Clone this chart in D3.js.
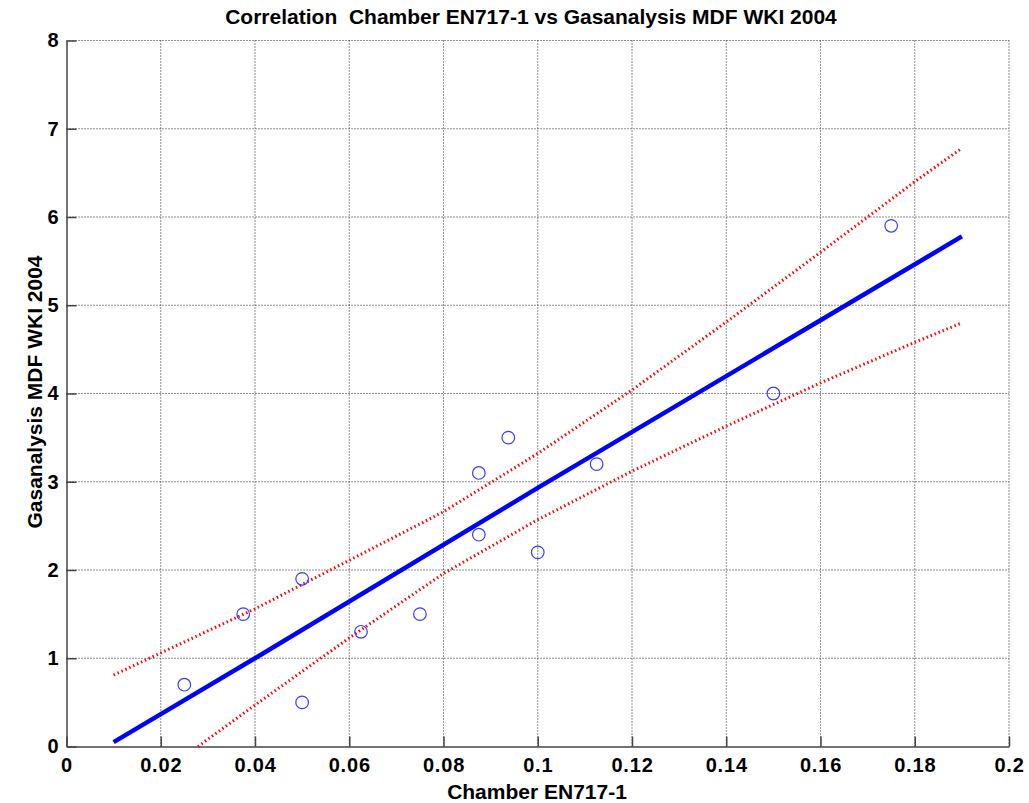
<!DOCTYPE html>
<html>
<head>
<meta charset="utf-8">
<script src="https://cdn.jsdelivr.net/npm/d3@7"></script>
<style>
  body { margin: 0; background: #fff; }
  text { font-family: "Liberation Sans", Arial, sans-serif; font-weight: bold; fill: #000; }
</style>
</head>
<body>
<div id="chart"></div>
<script>
// measured points
var chamberX = [0.025, 0.0375, 0.05, 0.05, 0.0625, 0.075, 0.0875, 0.0875, 0.09375, 0.1, 0.1125, 0.15, 0.175];
var gasY = [0.7, 1.5, 1.9, 0.5, 1.3, 1.5, 3.1, 2.4, 3.5, 2.2, 3.2, 4.0, 5.9];

// regression line and confidence band
var fitX = [0.01, 0.04, 0.1, 0.16, 0.19];
var fitY = [0.05, 1.0, 2.93, 4.83, 5.78];
var upperX = [0.01, 0.04, 0.08, 0.1, 0.12, 0.14, 0.16, 0.18, 0.19];
var upperY = [0.81, 1.56, 2.66, 3.32, 4.04, 4.81, 5.6, 6.4, 6.78];
var lowerX = [0.0279, 0.04, 0.06, 0.08, 0.1, 0.12, 0.14, 0.16, 0.18, 0.19];
var lowerY = [0, 0.47, 1.23, 1.96, 2.57, 3.12, 3.63, 4.12, 4.58, 4.8];

var xTicks = [0, 0.02, 0.04, 0.06, 0.08, 0.1, 0.12, 0.14, 0.16, 0.18, 0.2];
var yTicks = [0, 1, 2, 3, 4, 5, 6, 7, 8];

var svgWidth = 1029;
var svgHeight = 803;
var margin = { top: 40.5, right: 20, bottom: 56.5, left: 66.5 };
var chartWidth = 1009 - margin.left;
var chartHeight = svgHeight - margin.top - margin.bottom;

var svg = d3.select('#chart').append('svg')
    .attr('width', svgWidth)
    .attr('height', svgHeight);

var chartGroup = svg.append('g')
    .attr('transform', `translate(${margin.left}, ${margin.top})`);

var xScale = d3.scaleLinear().domain([0, 0.2]).range([0, chartWidth]);
var yScale = d3.scaleLinear().domain([0, 8]).range([chartHeight, 0]);

// grid
chartGroup.append('g').selectAll('line')
    .data(xTicks.slice(1))
    .enter().append('line')
    .attr('x1', d => xScale(d)).attr('x2', d => xScale(d))
    .attr('y1', 0).attr('y2', chartHeight)
    .attr('stroke', '#222').attr('stroke-width', 1)
    .attr('stroke-dasharray', '1,2');

chartGroup.append('g').selectAll('line')
    .data(yTicks.slice(1))
    .enter().append('line')
    .attr('x1', 0).attr('x2', chartWidth)
    .attr('y1', d => yScale(d)).attr('y2', d => yScale(d))
    .attr('stroke', '#222').attr('stroke-width', 1)
    .attr('stroke-dasharray', '1,2');

// axes
var bottomAxis = d3.axisBottom(xScale).tickValues(xTicks)
    .tickFormat(d => d3.format('')(+d.toFixed(2))).tickSizeInner(-10).tickSizeOuter(0).tickPadding(11);
var leftAxis = d3.axisLeft(yScale).tickValues(yTicks)
    .tickSizeInner(-10).tickSizeOuter(0).tickPadding(8);

var xAxis = chartGroup.append('g')
    .attr('transform', `translate(0, ${chartHeight})`)
    .call(bottomAxis);
var yAxis = chartGroup.append('g').call(leftAxis);

[xAxis, yAxis].forEach(function(ax) {
    ax.select('.domain').attr('stroke', '#444').attr('stroke-width', 1.5);
    ax.selectAll('.tick line').attr('stroke', '#444').attr('stroke-width', 1.5);
    ax.selectAll('.tick text')
        .attr('font-size', '20px')
        .attr('font-family', '"Liberation Sans", Arial, sans-serif')
        .attr('font-weight', 'bold')
        .attr('fill', '#000');
});
xAxis.selectAll('.tick text').attr('letter-spacing', '0.8px');

// band and fit lines
var line = d3.line().x(d => xScale(d[0])).y(d => yScale(d[1]));

chartGroup.append('path')
    .datum(upperX.map((x, i) => [x, upperY[i]]))
    .attr('d', line)
    .attr('fill', 'none').attr('stroke', '#ff0000')
    .attr('stroke-width', 3).attr('stroke-dasharray', '1.5,2.8');

chartGroup.append('path')
    .datum(lowerX.map((x, i) => [x, lowerY[i]]))
    .attr('d', line)
    .attr('fill', 'none').attr('stroke', '#ff0000')
    .attr('stroke-width', 3).attr('stroke-dasharray', '1.5,2.8');

chartGroup.append('path')
    .datum(fitX.map((x, i) => [x, fitY[i]]))
    .attr('d', line)
    .attr('fill', 'none').attr('stroke', '#0000ff')
    .attr('stroke-width', 4.5);

// points
chartGroup.selectAll('.pt')
    .data(chamberX.map((x, i) => [x, gasY[i]]))
    .enter().append('circle')
    .attr('class', 'pt')
    .attr('cx', d => xScale(d[0]))
    .attr('cy', d => yScale(d[1]))
    .attr('r', 6.3)
    .attr('fill', 'none')
    .attr('stroke', '#3a3aff')
    .attr('stroke-width', 1.2);

// labels
svg.append('text')
    .attr('x', 531).attr('y', 24)
    .attr('text-anchor', 'middle')
    .attr('font-size', '21px')
    .attr('xml:space', 'preserve')
    .text('Correlation  Chamber EN717-1 vs Gasanalysis MDF WKI 2004');

svg.append('text')
    .attr('x', 537).attr('y', 799)
    .attr('text-anchor', 'middle')
    .attr('font-size', '21px')
    .text('Chamber EN717-1');

svg.append('text')
    .attr('transform', 'translate(42, 392) rotate(-90)')
    .attr('text-anchor', 'middle')
    .attr('font-size', '21px')
    .text('Gasanalysis MDF WKI 2004');
</script>
</body>
</html>
